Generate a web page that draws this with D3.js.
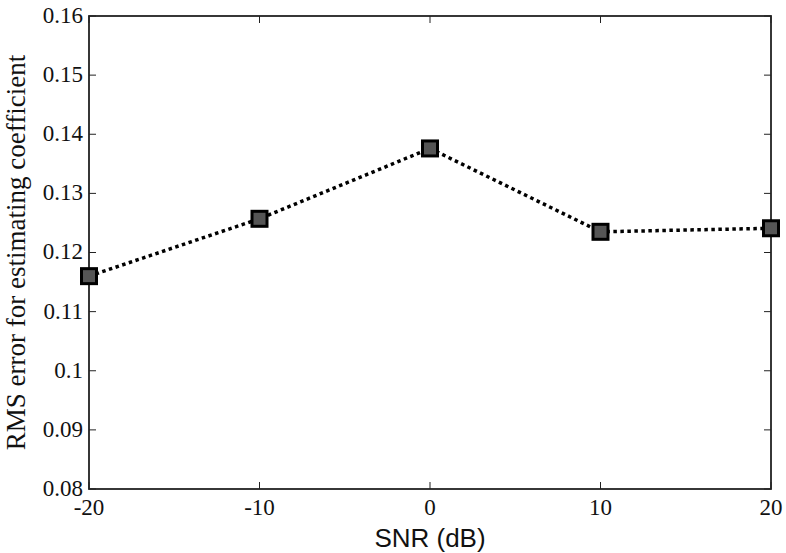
<!DOCTYPE html>
<html>
<head>
<meta charset="utf-8">
<script src="https://cdn.jsdelivr.net/npm/d3@7"></script>
<style>
  body { margin: 0; background: #fff; }
  svg text { fill: #111; }
</style>
</head>
<body>
<svg id="chart" width="786" height="553"></svg>
<script>
const snr = [-20, -10, 0, 10, 20];
const rmsError = [0.1160, 0.1257, 0.1376, 0.1235, 0.1241];
const xTicks = [-20, -10, 0, 10, 20];
const yTicks = [0.08, 0.09, 0.1, 0.11, 0.12, 0.13, 0.14, 0.15, 0.16];

const svg = d3.select("#chart");
const margin = { left: 89, right: 15, top: 16, bottom: 64 };
const width = 786 - margin.left - margin.right;
const height = 553 - margin.top - margin.bottom;

const x = d3.scaleLinear().domain([-20, 20]).range([0, width]);
const y = d3.scaleLinear().domain([0.08, 0.16]).range([height, 0]);

const g = svg.append("g").attr("transform", `translate(${margin.left},${margin.top})`);

// inward ticks on all four sides (matlab style)
const tickLen = 7;
const ticks = g.append("g").attr("stroke", "#222").attr("stroke-width", 1);
xTicks.forEach(v => {
  ticks.append("line").attr("x1", x(v)).attr("x2", x(v)).attr("y1", height).attr("y2", height - tickLen);
  ticks.append("line").attr("x1", x(v)).attr("x2", x(v)).attr("y1", 0).attr("y2", tickLen);
});
yTicks.forEach(v => {
  ticks.append("line").attr("x1", 0).attr("x2", tickLen).attr("y1", y(v)).attr("y2", y(v));
  ticks.append("line").attr("x1", width).attr("x2", width - tickLen).attr("y1", y(v)).attr("y2", y(v));
});

g.append("rect")
  .attr("width", width).attr("height", height)
  .attr("fill", "none").attr("stroke", "#222").attr("stroke-width", 1.8);

g.selectAll(".ylab").data(yTicks).join("text")
  .attr("x", -6).attr("y", d => y(d))
  .attr("dy", "0.3em")
  .attr("text-anchor", "end")
  .attr("font-family", "Liberation Serif, serif")
  .attr("font-size", 23)
  .text(d => +d.toFixed(2));

g.selectAll(".xlab").data(xTicks).join("text")
  .attr("x", d => x(d)).attr("y", height + 26)
  .attr("text-anchor", "middle")
  .attr("font-family", "Liberation Serif, serif")
  .attr("font-size", 23)
  .text(d => d);

const pts = snr.map((s, i) => [s, rmsError[i]]);

g.append("path")
  .datum(pts)
  .attr("fill", "none")
  .attr("stroke", "#000")
  .attr("stroke-width", 3.5)
  .attr("stroke-dasharray", "3.5,3.5")
  .attr("d", d3.line().x(d => x(d[0])).y(d => y(d[1])));

const ms = 15;
g.selectAll(".mk").data(pts).join("rect")
  .attr("x", d => x(d[0]) - ms / 2)
  .attr("y", d => y(d[1]) - ms / 2)
  .attr("width", ms).attr("height", ms)
  .attr("fill", "#555")
  .attr("stroke", "#000")
  .attr("stroke-width", 3);

svg.append("text")
  .attr("x", margin.left + width / 2).attr("y", 547)
  .attr("text-anchor", "middle")
  .attr("font-family", "Liberation Sans, Arial, sans-serif")
  .attr("font-size", 26)
  .text("SNR (dB)");

svg.append("text")
  .attr("transform", `translate(25,${(453 + 52) / 2}) rotate(-90)`)
  .attr("text-anchor", "middle")
  .attr("font-family", "Liberation Serif, serif")
  .attr("font-size", 27)
  .text("RMS error for estimating coefficient");
</script>
</body>
</html>
